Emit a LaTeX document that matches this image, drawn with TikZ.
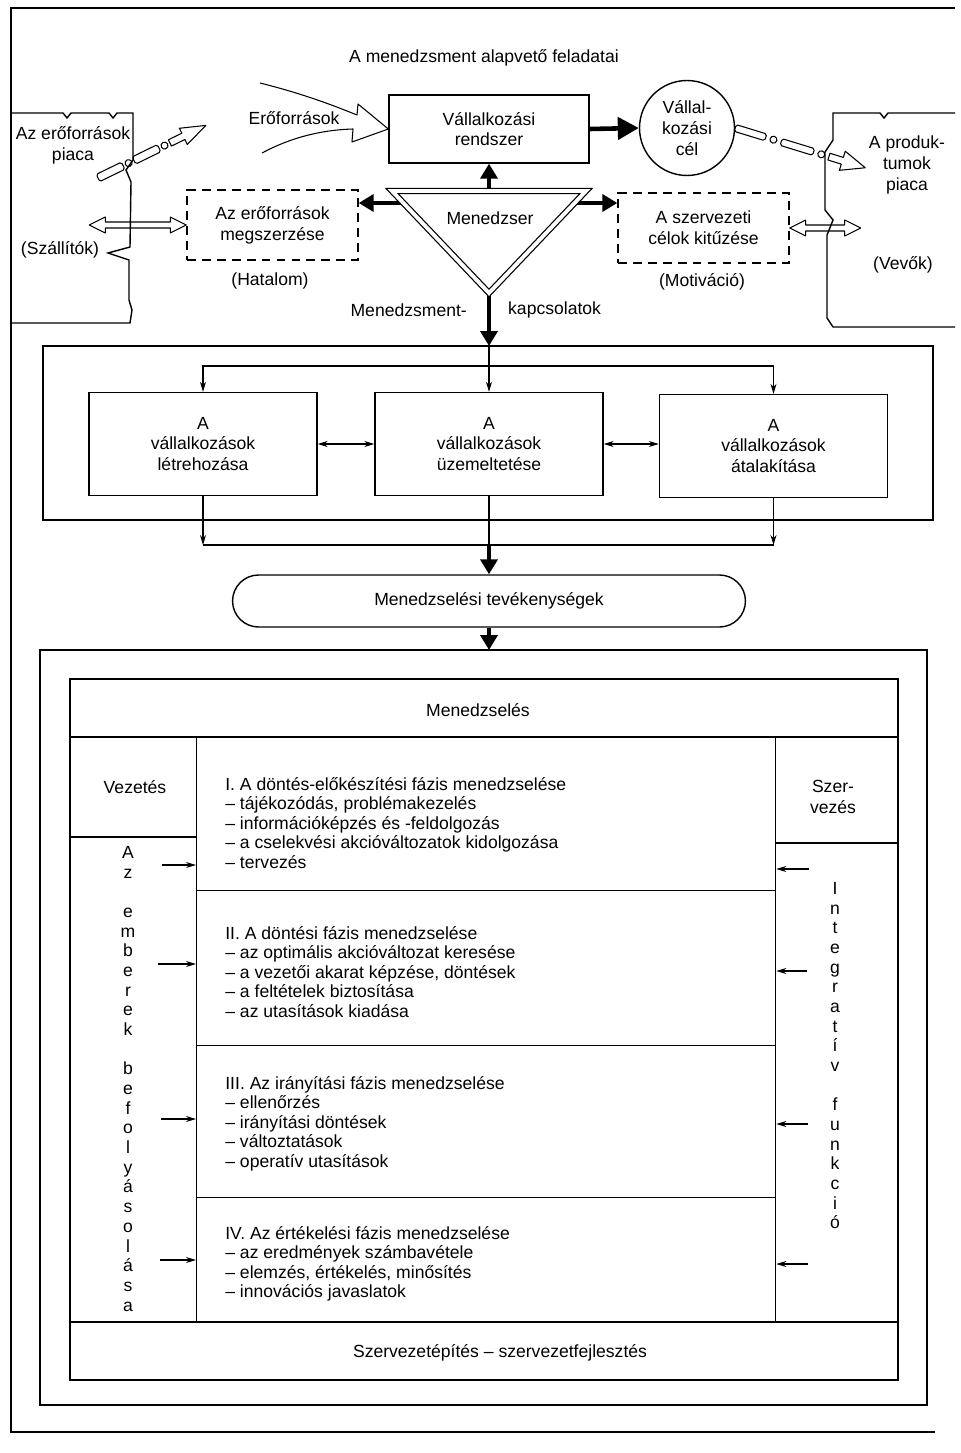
\documentclass[tikz,border=0pt]{standalone}
\usepackage{fontspec}
\setmainfont{Liberation Sans}
\usepackage{tikz}
\usetikzlibrary{arrows.meta}

\tikzset{
  keret/.style={line width=0.8pt},
  doboz/.style={draw, line width=0.8pt, align=center, inner sep=0pt},
  szaggatott/.style={doboz, dash pattern=on 5pt off 3.5pt},
  vastag/.style={line width=2.6pt, -{Triangle[length=0.3cm, width=0.34cm]}},
  nagyvastag/.style={line width=2.6pt, -{Triangle[length=0.42cm, width=0.44cm]}},
  vekony/.style={line width=0.6pt, -{Stealth[length=0.2cm, width=0.12cm]}},
  ketiranyu/.style={line width=0.6pt, {Stealth[length=0.2cm, width=0.12cm]}-{Stealth[length=0.2cm, width=0.12cm]}},
  ures/.style={line width=0.6pt, line join=round},
  fazisszoveg/.style={anchor=north west, align=left, inner sep=0pt, font=\fontsize{10}{11.1}\selectfont},
  fuggoleges/.style={anchor=north, align=center, inner sep=0pt, font=\fontsize{10}{11.2}\selectfont},
}

\begin{document}
\begin{tikzpicture}[x=0.02cm, y=-0.02cm, every node/.style={font=\fontsize{10}{11.8}\selectfont}]

\useasboundingbox (0,0) rectangle (960,1453);

% outer frame
\draw[keret] (955,8) -- (11,8) -- (11,1432) -- (935,1432);

\node (cim) at (484,58) {A menedzsment alapvető feladatai};

% markets
{
\draw[keret] (12,113) -- (63,113) -- (67,118) -- (71,113) -- (109,113) -- (113,118) -- (117,113) -- (133,113)
  -- (133,160) -- (126,170) -- (131,182) -- (130,247) -- (108,253) -- (129,260) -- (129,300) -- (132,310) -- (130,323) -- (12,323);
\node[align=center] (epiac) at (73,145) {Az erőforrások\\piaca};
\node (szallitok) at (60,250) {(Szállítók)};

\draw[keret] (955,113) -- (888,113) -- (884,118) -- (880,113) -- (833,113)
  -- (833,140) -- (825,152) -- (825,210) -- (833,220) -- (827,235) -- (827,318) -- (833,327) -- (955,327);
\node[align=center] (ppiac) at (907,165) {A produk-\\tumok\\piaca};
\node (vevok) at (903,265) {(Vevők)};
}

% boxes of the top part
\node[doboz, minimum width=4cm, minimum height=1.36cm] (vrendszer) at (489,129) {Vállalkozási\\rendszer};
\node[doboz, circle, minimum size=1.9cm] (vcel) at (687,128) {Vállal-\\kozási\\cél};
\node[szaggatott, minimum width=3.42cm, minimum height=1.4cm] (megszerzes) at (272.5,225) {Az erőforrások\\megszerzése};
\node[szaggatott, minimum width=3.42cm, minimum height=1.4cm] (kituzes) at (703.5,228) {A szervezeti\\célok kitűzése};
\node (hatalom) at (270,281) {(Hatalom)};
\node (motivacio) at (702,282) {(Motiváció)};

\node (eroforrasok) at (294,118) {Erőforrások};
\draw[ures] (260,83) .. controls (300,93) and (330,104) .. (357,115) -- (358,104) -- (vrendszer.west)
  -- (352,142) -- (353,129) .. controls (320,130) and (290,138) .. (262,153);

\draw[nagyvastag] (vrendszer.east) -- (vcel.west);

% hollow arrows
\draw[ures] (megszerzes.west) -- ++(-16,-8) -- ++(0,5) -- ++(-65,0) -- ++(0,-5) -- ++(-16,8)
  -- ++(16,8) -- ++(0,-5) -- ++(65,0) -- ++(0,5) -- cycle;
\draw[ures] (kituzes.east) -- ++(16,-8) -- ++(0,5) -- ++(39,0) -- ++(0,-5) -- ++(16,8)
  -- ++(-16,8) -- ++(0,-5) -- ++(-39,0) -- ++(0,5) -- cycle;

\begin{scope}[shift={(98,178)}, rotate=26]
\draw[ures, rounded corners=1pt] (0,-4) rectangle (28,4);
\draw[ures] (34,0) circle [radius=3.5];
\draw[ures, rounded corners=1pt] (40,-4) rectangle (68,4);
\draw[ures] (74,0) circle [radius=3.5];
\draw[ures] (80,-3.5) -- (95,-3.5) -- (95,-9) -- (120,0) -- (95,9) -- (95,3.5) -- (80,3.5) -- cycle;
\end{scope}

\begin{scope}[shift={(vcel.east)}, rotate=-17]
\draw[ures, rounded corners=1pt] (0,-3.5) rectangle (32,3.5);
\draw[ures] (40,0) circle [radius=3.5];
\draw[ures, rounded corners=1pt] (48,-3.5) rectangle (82,3.5);
\draw[ures] (90,0) circle [radius=3.5];
\draw[ures] (98,-3.5) -- (112,-3.5) -- (112,-10) -- (136,0) -- (112,10) -- (112,3.5) -- (98,3.5) -- cycle;
\end{scope}

% manager triangle
\coordinate (mbal) at (392,191);
\coordinate (mjobb) at (586,191);
\coordinate (malso) at (489,293);
\coordinate (mfelso) at (489,191);
\coordinate (mbalkar) at (404,203);
\coordinate (mjobbkar) at (575,203);
\coordinate (keretfelso) at (489,346);

\draw[vastag] (mfelso) -- (vrendszer.south);
\draw[vastag] (mbalkar) -- (megszerzes.east |- mbalkar);
\draw[vastag] (mjobbkar) -- (kituzes.west |- mjobbkar);
\draw[vastag] (malso) -- (keretfelso);

\draw[line width=0.7pt, double, double distance=2.2pt, line join=miter] (mbal) -- (mjobb) -- (malso) -- cycle;
\node (menedzser) at (490,218) {Menedzser};

\node[anchor=east] (mkapcs1) at (473,310) {Menedzsment-};
\node[anchor=west] (mkapcs2) at (502,310) {kapcsolatok};

% middle part
\draw[keret] (43,346) rectangle (933,520);
\coordinate (eloszto) at (489,366);
\coordinate (gyujto) at (489,545);
\coordinate (alsokeret) at (489,650);

\node[doboz, minimum width=4.56cm, minimum height=2.06cm] (letrehozas) at (203,444) {A\\vállalkozások\\létrehozása};
\node[doboz, minimum width=4.56cm, minimum height=2.06cm] (uzemeltetes) at (489,444) {A\\vállalkozások\\üzemeltetése};
\node[doboz, minimum width=4.56cm, minimum height=2.06cm] (atalakitas) at (773.5,446) {A\\vállalkozások\\átalakítása};

\draw[vekony] (keretfelso) -- (uzemeltetes.north);
\draw[vekony] (eloszto) -| (letrehozas.north);
\draw[vekony] (eloszto) -| (atalakitas.north);

\draw[ketiranyu] (letrehozas.east) -- (uzemeltetes.west);
\draw[ketiranyu] (uzemeltetes.east) -- (atalakitas.west |- uzemeltetes.east);

\draw[vekony] (letrehozas.south) -- (letrehozas.south |- gyujto);
\draw[vekony] (atalakitas.south) -- (atalakitas.south |- gyujto);
\draw[line width=0.6pt] (letrehozas.south |- gyujto) -- (atalakitas.south |- gyujto);
\draw[line width=0.6pt] (uzemeltetes.south) -- (gyujto);

\node[doboz, rounded corners=0.52cm, minimum width=10.26cm, minimum height=1.04cm] (tevekenyseg) at (489,601) {Menedzselési tevékenységek};
\draw[vastag] (gyujto) -- (tevekenyseg.north);
\draw[vastag] (tevekenyseg.south) -- (alsokeret);

% bottom part
\draw[keret] (40,650) rectangle (927,1405);
\draw[keret] (70,679) rectangle (898,1380);
\draw[keret] (70,737) -- (898,737);
\draw[keret] (70,1322) -- (898,1322);
\draw[keret] (70,837) -- (196,837);
\draw[keret] (775,843) -- (898,843);

\node[doboz, anchor=north west, minimum width=11.58cm, minimum height=3.06cm] (fazis1) at (196,737) {};
\node[doboz, anchor=north west, minimum width=11.58cm, minimum height=3.1cm] (fazis2) at (196,890) {};
\node[doboz, anchor=north west, minimum width=11.58cm, minimum height=3.04cm] (fazis3) at (196,1045) {};
\node[doboz, anchor=north west, minimum width=11.58cm, minimum height=2.5cm] (fazis4) at (196,1197) {};

\node (menedzseles) at (478,710) {Menedzselés};
\node (vezetes) at (135,787) {Vezetés};
\node[align=center] (szervezes) at (833,797) {Szer-\\vezés};
\node (szfejl) at (500,1353) {Szervezetépítés – szervezetfejlesztés};

\node[fazisszoveg] (f1szoveg) at (225,777) {I. A döntés-előkészítési fázis menedzselése\\
– tájékozódás, problémakezelés\\
– információképzés és -feldolgozás\\
– a cselekvési akcióváltozatok kidolgozása\\
– tervezés};
\node[fazisszoveg] (f2szoveg) at (225,926) {II. A döntési fázis menedzselése\\
– az optimális akcióváltozat keresése\\
– a vezetői akarat képzése, döntések\\
– a feltételek biztosítása\\
– az utasítások kiadása};
\node[fazisszoveg] (f3szoveg) at (225,1076) {III. Az irányítási fázis menedzselése\\
– ellenőrzés\\
– irányítási döntések\\
– változtatások\\
– operatív utasítások};
\node[fazisszoveg] (f4szoveg) at (225,1226) {IV. Az értékelési fázis menedzselése\\
– az eredmények számbavétele\\
– elemzés, értékelés, minősítés\\
– innovációs javaslatok};

\node[fuggoleges] (emberek) at (128,846) {A\\z\\ \\e\\m\\b\\e\\r\\e\\k\\ \\b\\e\\f\\o\\l\\y\\á\\s\\o\\l\\á\\s\\a};
\node[fuggoleges] (integrativ) at (835,882) {I\\n\\t\\e\\g\\r\\a\\t\\í\\v\\ \\f\\u\\n\\k\\c\\i\\ó};

% small arrows
\coordinate (bal1) at (162,865);
\coordinate (bal2) at (158,964);
\coordinate (bal3) at (161,1119);
\coordinate (bal4) at (160,1260);
\coordinate (jobb1) at (809,869);
\coordinate (jobb2) at (807,971);
\coordinate (jobb3) at (808,1124);
\coordinate (jobb4) at (808,1264);

\draw[vekony] (bal1) -- (bal1 -| fazis1.west);
\draw[vekony] (bal2) -- (bal2 -| fazis2.west);
\draw[vekony] (bal3) -- (bal3 -| fazis3.west);
\draw[vekony] (bal4) -- (bal4 -| fazis4.west);
\draw[vekony] (jobb1) -- (jobb1 -| fazis1.east);
\draw[vekony] (jobb2) -- (jobb2 -| fazis2.east);
\draw[vekony] (jobb3) -- (jobb3 -| fazis3.east);
\draw[vekony] (jobb4) -- (jobb4 -| fazis4.east);

\end{tikzpicture}
\end{document}
